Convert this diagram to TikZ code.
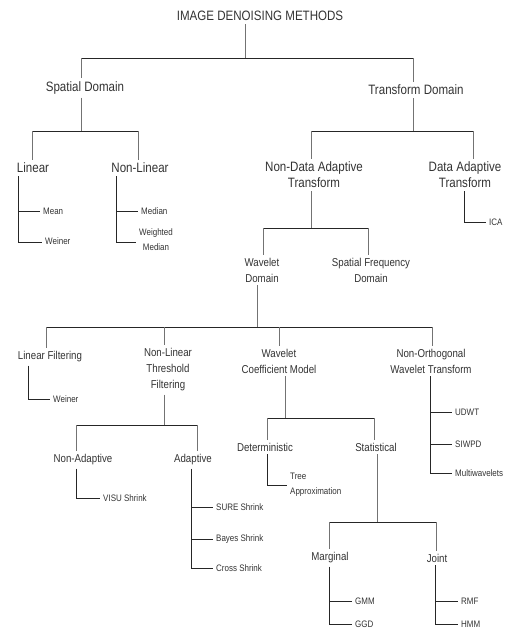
\documentclass[tikz,border=0pt]{standalone}
\usepackage{fontspec}
\setmainfont[FakeStretch=0.85]{Liberation Sans}
\begin{document}
\begin{tikzpicture}[x=1pt,y=-1pt,
  every node/.style={inner sep=3pt, text=black!80},
  big/.style={font=\fontsize{13.6}{16}\selectfont, align=center},
  mid/.style={font=\fontsize{11.4}{16}\selectfont, align=center},
  leaf/.style={font=\fontsize{9.4}{15}\selectfont, anchor=west, inner sep=3pt},
  vl/.style={draw=black!55, line width=0.8pt},
  hl/.style={draw=black!85, line width=0.8pt}]
\useasboundingbox (0,0) rectangle (507,632);
\clip (0,0) rectangle (507,632);

% ---------------- nodes ----------------
\node[big] (root) at (260,16) {IMAGE DENOISING METHODS};
\node[big] (sd) at (85,88) {Spatial Domain};
\node[big] (td) at (416,90) {Transform Domain};
\node[big] (lin) at (33,168) {Linear};
\node[big] (nlin) at (140,168) {Non-Linear};
\node[big] (nda) at (314,175) {Non-Data Adaptive\\Transform};
\node[big] (da) at (465,175) {Data Adaptive\\Transform};

\node[leaf] (mean) at (40,211) {Mean};
\node[leaf] (wein1) at (42,241) {Weiner};
\node[leaf] (median) at (138,211) {Median};
\node[leaf, align=center] (wmed) at (136,240) {Weighted\\Median};
\node[leaf] (ica) at (486,222) {ICA};

\node[mid] (wd) at (262,270) {Wavelet\\Domain};
\node[mid] (sfd) at (371,270) {Spatial Frequency\\Domain};

\node[mid] (lf) at (50,357) {Linear Filtering};
\node[mid] (nltf) at (168,370) {Non-Linear\\Threshold\\Filtering};
\node[mid] (wcm) at (279,361) {Wavelet\\Coefficient Model};
\node[mid] (nowt) at (431,361) {Non-Orthogonal\\Wavelet Transform};

\node[leaf] (wein2) at (50,399) {Weiner};
\node[leaf] (udwt) at (452,412) {UDWT};
\node[leaf] (siwpd) at (452,444) {SIWPD};
\node[leaf] (multi) at (452,473) {Multiwavelets};

\node[mid] (nad) at (83,460) {Non-Adaptive};
\node[mid] (ad) at (193,460) {Adaptive};
\node[mid] (det) at (265,447) {Deterministic};
\node[mid] (stat) at (376,447) {Statistical};

\node[leaf] (visu) at (100,498) {VISU Shrink};
\node[leaf] (sure) at (213,507) {SURE Shrink};
\node[leaf] (bayes) at (213,539) {Bayes Shrink};
\node[leaf] (cross) at (213,568) {Cross Shrink};
\node[leaf, align=left] (tree) at (287,485) {Tree\\Approximation};

\node[mid] (marg) at (330,558) {Marginal};
\node[mid] (joint) at (437,558) {Joint};
\node[leaf] (gmm) at (352,601) {GMM};
\node[leaf] (ggd) at (352,624) {GGD};
\node[leaf] (rmf) at (458,601) {RMF};
\node[leaf] (hmm) at (458,624) {HMM};

% ---------------- junction coordinates ----------------
\coordinate (b0) at (245,58);  \coordinate (b0l) at (81,58);  \coordinate (b0r) at (413,58);
\coordinate (b1a) at (81,131); \coordinate (b1al) at (32,131); \coordinate (b1ar) at (138,131);
\coordinate (b1b) at (413,131); \coordinate (b1bl) at (311,131); \coordinate (b1br) at (473,131);
\coordinate (linb) at (18,242);
\coordinate (nlinb) at (116,242);
\coordinate (b2) at (311,228); \coordinate (b2l) at (263,228); \coordinate (b2r) at (368,228);
\coordinate (dab) at (464,222);
\coordinate (b3) at (257,327); \coordinate (b3a) at (46,327); \coordinate (b3b) at (164,327);
\coordinate (b3c) at (279,327); \coordinate (b3d) at (432,327);
\coordinate (lfb) at (28,399);
\coordinate (b4) at (164,425); \coordinate (b4l) at (76,425); \coordinate (b4r) at (197,425);
\coordinate (nadb) at (76,498);
\coordinate (adb) at (191,568);
\coordinate (b5) at (285,418); \coordinate (b5l) at (267,418); \coordinate (b5r) at (374,418);
\coordinate (detb) at (267,485);
\coordinate (b6) at (377,522); \coordinate (b6l) at (329,522); \coordinate (b6r) at (436,522);
\coordinate (mb) at (329,624);
\coordinate (jb) at (435,624);
\coordinate (nb) at (430,473);

% ---------------- connectors ----------------
% root
\draw[vl] (root.south -| b0) -- (b0);
\draw[hl] (b0l) -- (b0r);
\draw[vl] (b0l) -- (sd.north -| b0l);
\draw[vl] (b0r) -- (td.north -| b0r);
% spatial domain
\draw[vl] (sd.south -| b1a) -- (b1a);
\draw[hl] (b1al) -- (b1ar);
\draw[vl] (b1al) -- (lin.north -| b1al);
\draw[vl] (b1ar) -- (nlin.north -| b1ar);
% transform domain
\draw[vl] (td.south -| b1b) -- (b1b);
\draw[hl] (b1bl) -- (b1br);
\draw[vl] (b1bl) -- (nda.north -| b1bl);
\draw[vl] (b1br) -- (da.north -| b1br);
% linear
\draw[hl] (lin.south -| linb) -- (linb) -- (linb -| wein1.west);
\draw[hl] (mean.west -| linb) -- (mean.west);
% non-linear
\draw[hl] (nlin.south -| nlinb) -- (nlinb) -- (nlinb -| wmed.west);
\draw[hl] (median.west -| nlinb) -- (median.west);
% non-data adaptive
\draw[vl] (nda.south -| b2) -- (b2);
\draw[hl] (b2l) -- (b2r);
\draw[vl] (b2l) -- (wd.north -| b2l);
\draw[vl] (b2r) -- (sfd.north -| b2r);
% data adaptive
\draw[hl] (da.south -| dab) -- (dab) -- (ica.west);
% wavelet domain
\draw[vl] (wd.south -| b3) -- (b3);
\draw[hl] (b3a) -- (b3d);
\draw[vl] (b3a) -- (lf.north -| b3a);
\draw[vl] (b3b) -- (nltf.north -| b3b);
\draw[vl] (b3c) -- (wcm.north -| b3c);
\draw[vl] (b3d) -- (nowt.north -| b3d);
% linear filtering
\draw[hl] (lf.south -| lfb) -- (lfb) -- (wein2.west);
% non-linear threshold filtering
\draw[vl] (nltf.south -| b4) -- (b4);
\draw[hl] (b4l) -- (b4r);
\draw[vl] (b4l) -- (nad.north -| b4l);
\draw[vl] (b4r) -- (ad.north -| b4r);
\draw[hl] (nad.south -| nadb) -- (nadb) -- (visu.west);
\draw[hl] (ad.south -| adb) -- (adb) -- (cross.west);
\draw[hl] (sure.west -| adb) -- (sure.west);
\draw[hl] (bayes.west -| adb) -- (bayes.west);
% wavelet coefficient model
\draw[vl] (wcm.south -| b5) -- (b5);
\draw[hl] (b5l) -- (b5r);
\draw[vl] (b5l) -- (det.north -| b5l);
\draw[vl] (b5r) -- (stat.north -| b5r);
\draw[hl] (det.south -| detb) -- (detb) -- (tree.west);
\draw[vl] (stat.south -| b6) -- (b6);
\draw[hl] (b6l) -- (b6r);
\draw[vl] (b6l) -- (marg.north -| b6l);
\draw[vl] (b6r) -- (joint.north -| b6r);
\draw[hl] (marg.south -| mb) -- (mb) -- (ggd.west);
\draw[hl] (gmm.west -| mb) -- (gmm.west);
\draw[hl] (joint.south -| jb) -- (jb) -- (hmm.west);
\draw[hl] (rmf.west -| jb) -- (rmf.west);
% non-orthogonal
\draw[hl] (nowt.south -| nb) -- (nb) -- (multi.west);
\draw[hl] (udwt.west -| nb) -- (udwt.west);
\draw[hl] (siwpd.west -| nb) -- (siwpd.west);
\end{tikzpicture}
\end{document}
